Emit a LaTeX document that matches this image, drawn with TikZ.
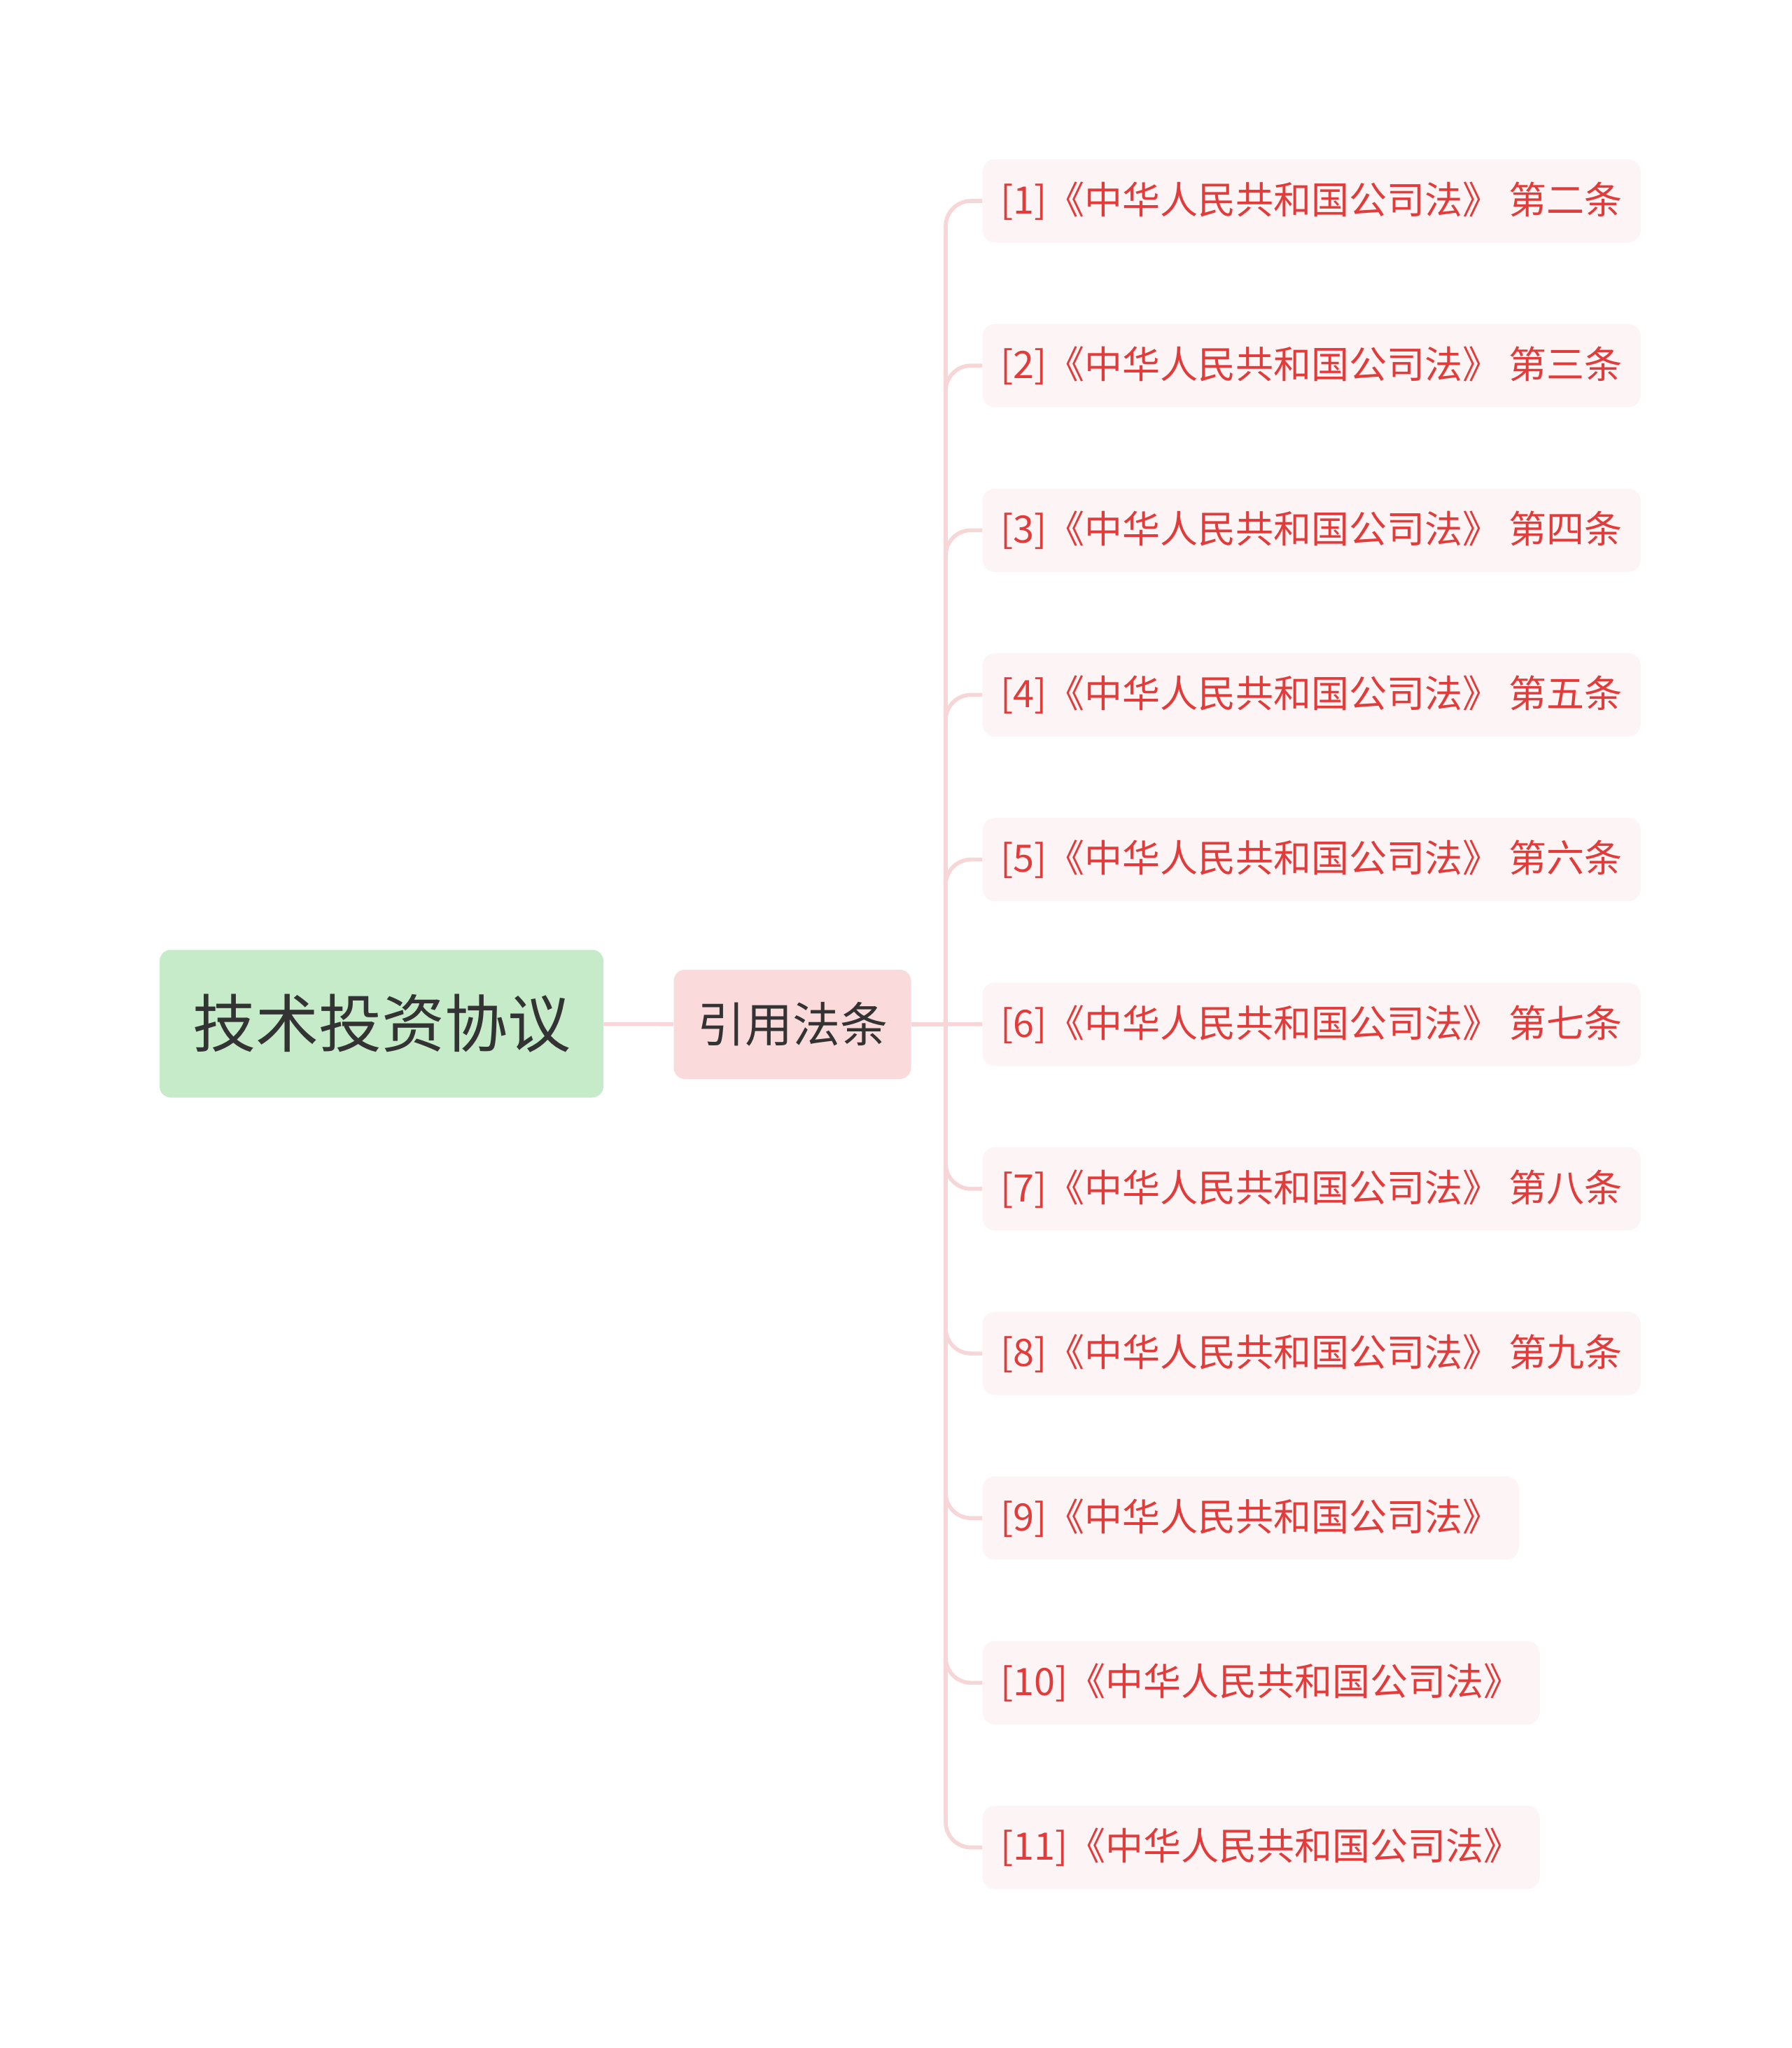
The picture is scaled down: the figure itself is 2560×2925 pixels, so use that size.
\documentclass[tikz,border=0pt]{standalone}
\usepackage{fontspec}
\newfontfamily\cjk{Noto Sans CJK SC}
\usepackage{tikz}
\usetikzlibrary{positioning}
\usetikzlibrary{calc}
\definecolor{rootgreen}{HTML}{C5EBC8}
\definecolor{subpink}{HTML}{FADADB}
\definecolor{leafpink}{HTML}{FDF5F5}
\definecolor{linkpink}{HTML}{F6D6D6}
\definecolor{lawred}{HTML}{E33A3A}
\definecolor{darktext}{HTML}{333333}
\tikzstyle{rootnode}=[rectangle,rounded corners=8pt,fill=rootgreen,text=darktext,font=\cjk\fontsize{45}{54}\selectfont,minimum width=317pt,minimum height=105.5pt,inner sep=0pt]
\tikzstyle{subnode}=[rectangle,rounded corners=8pt,fill=subpink,text=darktext,font=\cjk\fontsize{34}{40}\selectfont,minimum width=169.5pt,minimum height=78pt,inner sep=0pt]
\tikzstyle{leafnode}=[rectangle,rounded corners=9pt,fill=leafpink,text=lawred,font=\cjk\fontsize{27}{32}\selectfont,minimum height=59.5pt,inner xsep=13pt,anchor=west]
\tikzstyle{link} = [draw=linkpink,line width=2.8pt,rounded corners=18pt]

\begin{document}
\begin{tikzpicture}[x=0.5pt,y=-0.5pt]
    \useasboundingbox (0,0) rectangle (2560,2925);

    \node[rootnode] (root) at (545,1462) {技术投资协议};
    \node[subnode] (cite) at (1132,1463) {引用法条};
    \coordinate (fork) at (1351,1463);

    \foreach \idx/\label in {1/{[1]《中华人民共和国公司法》 第二条}, 2/{[2]《中华人民共和国公司法》 第三条},
        3/{[3]《中华人民共和国公司法》 第四条}, 4/{[4]《中华人民共和国公司法》 第五条},
        5/{[5]《中华人民共和国公司法》 第六条}, 6/{[6]《中华人民共和国公司法》 第七条},
        7/{[7]《中华人民共和国公司法》 第八条}, 8/{[8]《中华人民共和国公司法》 第九条},
        9/{[9]《中华人民共和国公司法》}, 10/{[10]《中华人民共和国公司法》}, 11/{[11]《中华人民共和国公司法》}}
        \node[leafnode] (law\idx) at (1403,{287+235.15*(\idx-1)}) {\label};

    \path[link] (root) -- (cite);
    \path[link] (cite) -- (law6);

    \foreach \idx in {1,2,3,4,5,7,8,9,10,11}
        \path[link] (fork) |- (law\idx.west);

\end{tikzpicture}
\end{document}
